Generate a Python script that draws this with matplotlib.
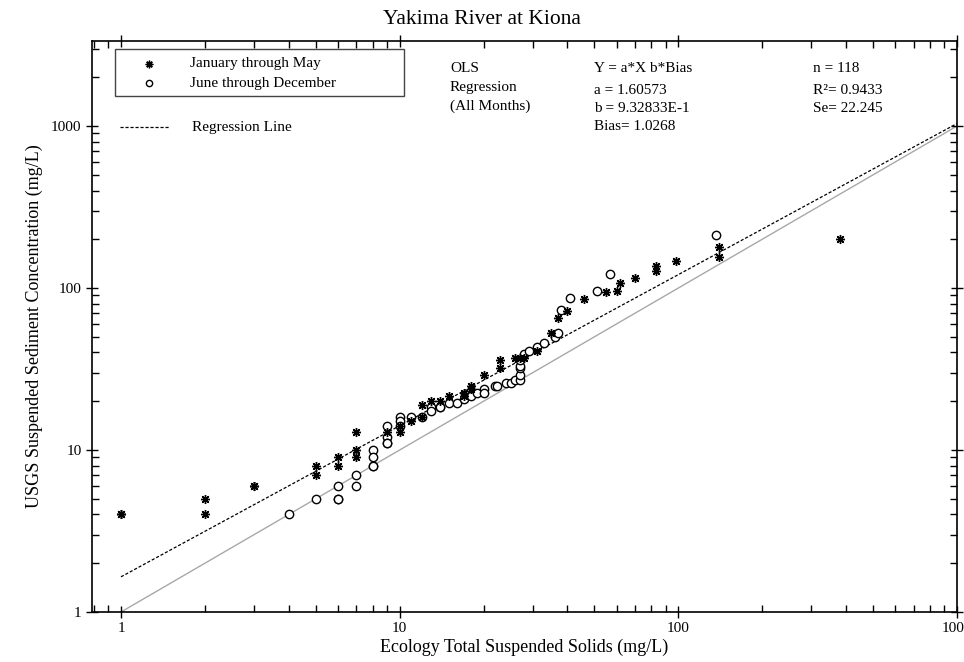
import numpy as np
import matplotlib
matplotlib.use("Agg")
import matplotlib.pyplot as plt
from matplotlib.patches import Rectangle
from matplotlib.lines import Line2D

plt.rcParams['font.family'] = ['Liberation Serif', 'DejaVu Serif']

# data (mg/L)
jan_may_x = [1, 1, 2, 2, 3, 3, 5, 5, 6, 6, 7, 7, 7, 9, 10, 10, 11, 12, 12, 13,
             14, 15, 17, 17, 18, 18, 20, 23, 23, 26, 27, 28, 31, 35, 37, 40, 46,
             55, 60, 62, 70, 83, 83, 98, 140, 140, 380]
jan_may_y = [4, 4, 5, 4, 6, 6, 8, 7, 9, 8, 13, 10, 9, 13, 14, 13, 15, 16, 19, 20,
             20, 21.5, 22.6, 21.6, 24.8, 23.7, 29, 36, 32, 37, 37, 37, 41, 53, 65,
             72, 85, 95, 96, 107, 115, 137, 128, 147, 180, 156, 200]

jun_dec_x = [4, 5, 6, 6, 6, 7, 7, 8, 8, 8, 8, 9, 9, 9, 9, 10, 10, 10, 11, 12, 13,
             13, 14, 14, 15, 16, 17, 18, 19, 20, 20, 22, 22.4, 24, 25, 26, 27, 27,
             27, 27, 27, 28, 29, 31, 33, 36, 37, 38, 41, 51, 57, 137]
jun_dec_y = [4, 5, 6, 5, 5, 7, 6, 10, 9, 8, 8, 14, 12, 11, 11, 16, 15, 14, 16, 16,
             18.5, 17.5, 18.5, 18.5, 19.6, 19.6, 20.6, 21.5, 22.6, 23.7, 22.6, 24.8,
             24.8, 26, 26, 27, 27, 29, 32, 33, 36, 39, 41, 43, 45.5, 50, 53, 73, 87,
             96, 122, 212]

# regression: Y = a*X^b*Bias
a = 1.60573
b = 0.932833
bias = 1.0268
line_x = [1, 1000]

W, H = 964, 662
fig = plt.figure(figsize=(W / 100, H / 100), dpi=100)
ax = fig.add_axes([92 / W, 50 / H, 865 / W, 571 / H])

def fx(px):
    return px / W

def fy(py):
    return 1 - py / H

star = (8, 2, 0)

xs = np.logspace(0, 3, 200)
ax.plot(line_x, line_x, color='#a8a8a8', lw=1.0, zorder=1)
ax.plot(xs, a * xs ** b * bias, color='black', lw=0.9, ls=(0, (2.5, 1.5)), zorder=2)

ax.plot(jun_dec_x, jun_dec_y, ls='none', marker='o', ms=6, mfc='white',
        mec='black', mew=1.0, zorder=3)
ax.plot(jan_may_x, jan_may_y, ls='none', marker=star, ms=6.5,
        mec='black', mew=1.0, zorder=4)

ax.set_xscale('log')
ax.set_yscale('log')
ax.set_xlim(0.787, 1000)
ax.set_ylim(1, 3350)

ax.set_xticks([1, 10, 100, 1000])
ax.set_xticklabels(['1', '10', '100', '1000'])
ax.set_yticks([1, 10, 100, 1000])
ax.set_yticklabels(['1', '10', '100', '1000'])
ax.tick_params(which='major', direction='inout', length=9, width=1,
               top=True, right=True, labelsize=11, pad=3)
ax.tick_params(which='minor', direction='in', length=5, width=1,
               top=True, right=True)
for s in ax.spines.values():
    s.set_linewidth(1.2)

ax.set_xlabel('Ecology Total Suspended Solids (mg/L)', fontsize=13, labelpad=2)
ax.set_ylabel('USGS Suspended Sediment Concentration (mg/L)', fontsize=13, labelpad=6)
fig.text(0.5, fy(20), 'Yakima River at Kiona', ha='center', va='center', fontsize=15.5)

# legend box
fig.patches.append(Rectangle((fx(115), fy(96)), (404 - 115) / W, (96 - 49) / H,
                             transform=fig.transFigure, fill=False,
                             ec='#444444', lw=1.0))
fig.lines.append(Line2D([fx(149)], [fy(64)], transform=fig.transFigure,
                        ls='none', marker=star, ms=5.5, mec='black', mew=1.0))
fig.lines.append(Line2D([fx(149)], [fy(83)], transform=fig.transFigure,
                        ls='none', marker='o', ms=4.5, mfc='white', mec='black', mew=1.0))
fig.lines.append(Line2D([fx(120), fx(170)], [fy(127), fy(127)], transform=fig.transFigure,
                        color='black', lw=0.9, ls=(0, (2.5, 1.5))))
fig.text(fx(190), fy(64), 'January through May', va='center', fontsize=11)
fig.text(fx(190), fy(83), 'June through December', va='center', fontsize=11)
fig.text(fx(192), fy(128), 'Regression Line', va='center', fontsize=11)

# regression stats
fig.text(fx(450), fy(69), 'OLS', va='center', fontsize=11)
fig.text(fx(450), fy(87), 'Regression', va='center', fontsize=11)
fig.text(fx(450), fy(106), '(All Months)', va='center', fontsize=11)
fig.text(fx(594), fy(69), 'Y = a*X b*Bias', va='center', fontsize=11)
fig.text(fx(594), fy(91), 'a = 1.60573', va='center', fontsize=11)
fig.text(fx(594), fy(108), 'b = 9.32833E-1', va='center', fontsize=11)
fig.text(fx(594), fy(127), 'Bias= 1.0268', va='center', fontsize=11)
fig.text(fx(813), fy(69), 'n = 118', va='center', fontsize=11)
fig.text(fx(813), fy(91), 'R²= 0.9433', va='center', fontsize=11)
fig.text(fx(813), fy(108), 'Se= 22.245', va='center', fontsize=11)

fig.savefig('out.png', dpi=100)
